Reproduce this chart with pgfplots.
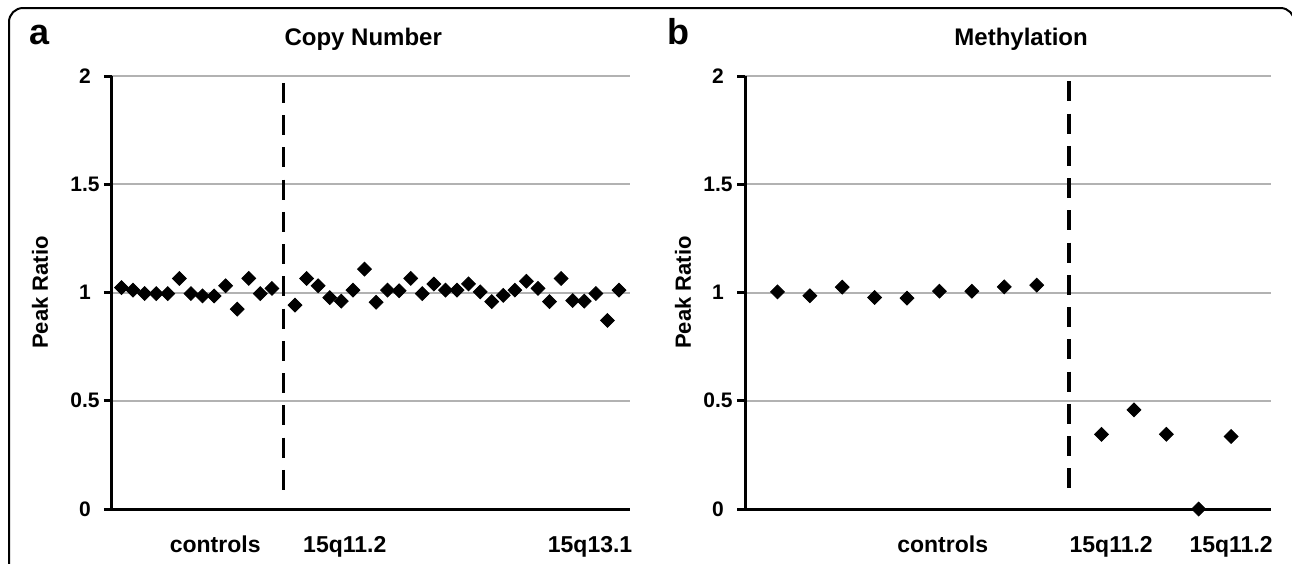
\documentclass[border=0pt]{standalone}
\usepackage{fontspec}
\setmainfont{Liberation Sans}
\usepackage{pgfplots}
\pgfplotsset{compat=1.18}
\definecolor{gridgray}{RGB}{178,178,178}

\pgfplotsset{
  peak/.style={
    scale only axis,
    height=216.5pt,
    ymin=0, ymax=2,
    ytick={0,0.5,1,1.5,2},
    axis lines*=left,
    axis line style={line width=1.5pt, black},
    ymajorgrids,
    grid style={line width=1pt, gridgray},
    tick align=outside,
    major tick length=4pt,
    ytick style={line width=1.5pt, black},
    xtick style={draw=none},
    /pgf/number format/assume math mode=true,
    yticklabel style={font=\bfseries\fontsize{10.5}{12}\selectfont, anchor=center, xshift=-9.5pt},
    xticklabel style={font=\bfseries\fontsize{11.5}{13}\selectfont, anchor=base, yshift=-17.5pt},
    ylabel={Peak Ratio},
    ylabel style={font=\bfseries\fontsize{11}{13}\selectfont, anchor=center},
    title style={font=\bfseries\fontsize{12}{14}\selectfont, anchor=base, yshift=9.5pt},
    clip=false,
  },
  pts/.style={only marks, mark=square*, mark size=2.45pt,
    mark options={rotate=45, fill=black, draw=black}},
  split/.style={black, line width=1.8pt, dash pattern=on 10pt off 6.125pt, mark=none},
}

\begin{document}
\begin{tikzpicture}
\useasboundingbox (0,0) rectangle (646pt,-281.5pt);
% outer frame
\draw[line width=1pt, rounded corners=7pt] (4.5pt,-300pt) -- (4.5pt,-4pt) -- (647.2pt,-4pt) -- (647.2pt,-300pt);
\node[font=\bfseries\fontsize{18}{18}\selectfont, anchor=base] at (20pt,-22pt) {a};
\node[font=\bfseries\fontsize{18}{18}\selectfont, anchor=base] at (339pt,-22pt) {b};

% a: copy number
\begin{axis}[peak,
  at={(56pt,-254.5pt)}, anchor=south west,
  width=259pt,
  xmin=0.18, xmax=44.95,
  xtick={9.1,20.3,41.5},
  xticklabels={controls,15q11.2,15q13.1},
  title={Copy Number},
  title style={at={(axis description cs:0.485,1)}},
  ylabel style={at={(axis description cs:-0.139,0.5)}},
]
\addplot[pts] coordinates {
  (1,1.023) (2,1.011) (3,0.995) (4,0.995) (5,0.995) (6,1.065) (7,0.995)
  (8,0.984) (9,0.984) (10,1.031) (11,0.923) (12,1.065) (13,0.995) (14,1.019)
  (16,0.942) (17,1.065) (18,1.031) (19,0.976) (20,0.960) (21,1.011) (22,1.108)
  (23,0.955) (24,1.011) (25,1.008) (26,1.065) (27,0.995) (28,1.039) (29,1.011)
  (30,1.011) (31,1.040) (32,1.003) (33,0.958) (34,0.987) (35,1.011) (36,1.052)
  (37,1.019) (38,0.958) (39,1.065) (40,0.963) (41,0.960) (42,0.995) (43,0.871)
  (44,1.011)
};
\addplot[split] coordinates {(15,1.968) (15,0.088)};
\end{axis}

% b: methylation
\begin{axis}[peak,
  at={(372.5pt,-254.5pt)}, anchor=south west,
  width=263pt,
  xmin=0, xmax=16.23,
  xtick={6.1,11.3,15.0},
  xticklabels={controls,15q11.2,15q11.2},
  title={Methylation},
  title style={at={(axis description cs:0.525,1)}},
  ylabel style={at={(axis description cs:-0.118,0.5)}},
]
\addplot[pts] coordinates {
  (1,1.003) (2,0.985) (3,1.025) (4,0.977) (5,0.974) (6,1.006) (7,1.006)
  (8,1.026) (9,1.034) (11,0.345) (12,0.458) (13,0.345) (14,0.0) (15,0.335)
};
\addplot[split] coordinates {(10,1.975) (10,0.095)};
\end{axis}
\end{tikzpicture}
\end{document}
